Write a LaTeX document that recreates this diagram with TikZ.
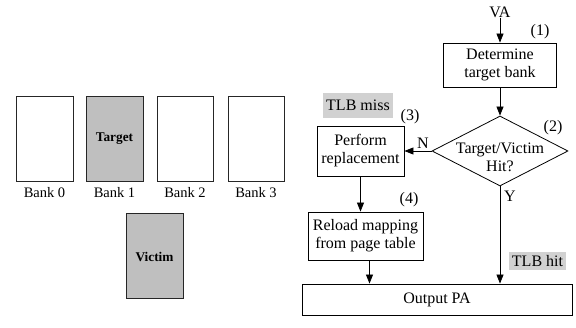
\documentclass[tikz,border=0pt]{standalone}
\usepackage{fontspec}
\setmainfont{Liberation Serif}
\usetikzlibrary{shapes.geometric,arrows.meta}
\begin{document}
\begin{tikzpicture}[x=1pt,y=-1pt,
  bankbox/.style={draw=black!85,line width=1pt,inner sep=0pt},
  flowbox/.style={draw,line width=0.8pt,inner sep=0pt,align=center,font=\fontsize{16}{18}\selectfont},
  tag/.style={fill=black!18,inner sep=0pt,font=\fontsize{16}{18}\selectfont},
  lbl/.style={inner sep=0pt,font=\fontsize{16}{18}\selectfont},
  banklbl/.style={inner sep=0pt,font=\fontsize{14.5}{16}\selectfont},
  arr/.style={line width=0.8pt,-{Triangle[length=9pt,width=7pt]}}]
\useasboundingbox (0,0) rectangle (576,328);
% banks
\node[bankbox,minimum width=57pt,minimum height=85pt] (b0) at (44.5,139) {};
\node[bankbox,fill=black!25,minimum width=57pt,minimum height=85pt,font=\fontsize{13.3}{15}\selectfont\bfseries] (b1) at (114.5,139) {Target};
\node[bankbox,minimum width=56pt,minimum height=85pt] (b2) at (185,139) {};
\node[bankbox,minimum width=56pt,minimum height=85pt] (b3) at (256,139) {};
\node[banklbl] (l0) at (44.5,193) {Bank 0};
\node[banklbl] (l1) at (114.5,193) {Bank 1};
\node[banklbl] (l2) at (185,193) {Bank 2};
\node[banklbl] (l3) at (256,193) {Bank 3};
\node[bankbox,fill=black!25,minimum width=57pt,minimum height=85pt,font=\fontsize{13.3}{15}\selectfont\bfseries] (vic) at (154.5,256.5) {Victim};
% flowchart
\node[lbl] (va) at (500,12) {VA};
\node[flowbox,minimum width=113pt,minimum height=44pt] (det) at (500,65) {Determine\\target bank};
\node[lbl] (n1) at (540,32) {(1)};
\node[draw,line width=0.8pt,diamond,inner sep=0pt,minimum width=136pt,minimum height=70pt] (dia) at (500,151) {};
\node[lbl,align=center] (diat) at (500,157) {Target/Victim\\Hit?};
\node[lbl] (n2) at (553,128) {(2)};
\node[tag,minimum width=70pt,minimum height=25pt] (miss) at (358,105.5) {TLB miss};
\node[lbl] (n3) at (410,117) {(3)};
\node[flowbox,minimum width=87pt,minimum height=50pt] (perf) at (360.5,151) {Perform\\replacement};
\node[lbl] (nN) at (423,143) {N};
\node[flowbox,minimum width=115pt,minimum height=48pt] (rel) at (365.5,236) {Reload mapping\\from page table};
\node[lbl] (n4) at (409,200) {(4)};
\node[lbl] (nY) at (510,196) {Y};
\node[tag,minimum width=57pt,minimum height=18pt] (hit) at (537.5,261.5) {TLB hit};
\node[flowbox,minimum width=270pt,minimum height=31pt] (out) at (437,299.5) {Output PA};
% connectors
\draw[arr] (va.south) -- (det.north);
\draw[arr] (det.south) -- (dia.north);
\draw[arr] (dia.west) -- (perf.east);
\draw[arr] (perf.south) -- (perf.south |- rel.north);
\draw[arr] ([xshift=4pt]rel.south) -- ([xshift=4pt]rel.south |- out.north);
\draw[arr] (dia.south) -- (dia.south |- out.north);
\end{tikzpicture}
\end{document}
